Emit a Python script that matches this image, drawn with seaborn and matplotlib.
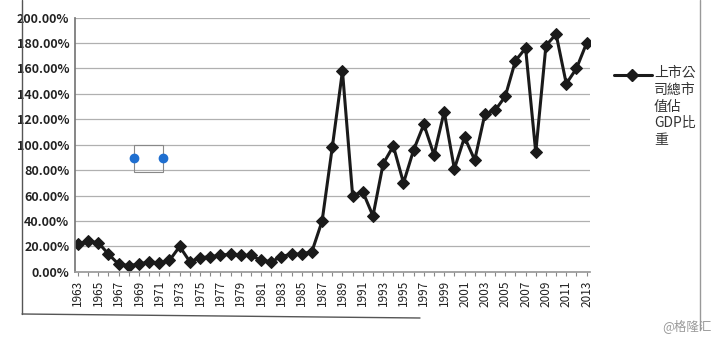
import matplotlib
matplotlib.use("Agg")
import matplotlib.pyplot as plt
import seaborn as sns
import pandas as pd
from matplotlib.lines import Line2D
from matplotlib.patches import Rectangle
from matplotlib.ticker import FuncFormatter, MultipleLocator

years = list(range(1963, 2014))
ratio = [22, 24, 23, 14, 6, 5, 6, 8, 7, 9,
         20, 8, 11, 12, 13, 14, 13, 13, 9, 8,
         12, 14, 14, 16, 40, 98, 158, 60, 63, 44,
         85, 99, 70, 96, 116, 92, 126, 81, 106, 88,
         124, 127, 138, 166, 176, 94, 178, 187, 148, 160,
         180]
series_name = "上市公司總市值佔GDP比重"
legend_label = "上市公\n司總市\n值佔\nGDP比\n重"
watermark = "@格隆汇"

df = pd.DataFrame({"year": years, "ratio": ratio})

sns.set_theme(style="white")
plt.rcParams['font.family'] = ['Noto Sans CJK TC', 'DejaVu Sans']

fig = plt.figure(figsize=(7.2, 3.39), dpi=100)
ax = fig.add_axes([0.104, 0.198, 0.715, 0.75])

sns.lineplot(data=df, x="year", y="ratio", ax=ax, color="#1a1a1a",
             marker="D", markersize=6.5, linewidth=2.2, markeredgecolor="#1a1a1a")

ax.set_ylim(0, 200)
ax.set_xlim(1962.7, 2013.3)
ax.yaxis.set_major_locator(MultipleLocator(20))
ax.yaxis.set_major_formatter(FuncFormatter(lambda v, p: f"{v:.2f}%"))
ax.set_xticks(years)
ax.set_xticklabels([str(y) if (y - 1963) % 2 == 0 else "" for y in years],
                   rotation=90, fontsize=8.5, color="#222222")
ax.tick_params(axis="y", labelsize=9, colors="#222222", length=0, pad=4)
ax.tick_params(axis="x", length=3, width=0.8, color="#888888", bottom=True, pad=3)
for lab in ax.get_yticklabels():
    lab.set_fontweight("bold")
ax.grid(axis="y", color="#b0b0b0", linewidth=0.9)
ax.set_xlabel("")
ax.set_ylabel("")
for s in ["top", "right"]:
    ax.spines[s].set_visible(False)
ax.spines["left"].set_color("#777777")
ax.spines["bottom"].set_color("#999999")
if ax.get_legend():
    ax.get_legend().remove()

# legend drawn manually
W, H = 720, 339
def fx(x): return x / W
def fy(y): return 1 - y / H
fig.add_artist(Line2D([fx(614), fx(652)], [fy(75), fy(75)], color="#1a1a1a", linewidth=2.2))
fig.add_artist(Line2D([fx(632)], [fy(75)], color="#1a1a1a", marker="D", markersize=6))
fig.text(fx(654), fy(66), legend_label, fontsize=10, color="#333333",
         va="top", ha="left", linespacing=1.25)

# outer frame
fig.add_artist(Line2D([fx(22), fx(22)], [fy(0), fy(314)], color="#555555", linewidth=1))
fig.add_artist(Line2D([fx(22), fx(420)], [fy(314), fy(318)], color="#555555", linewidth=1))
fig.add_artist(Line2D([fx(700), fx(700)], [fy(0), fy(330)], color="#999999", linewidth=1))

# selection box artifact
fig.add_artist(Rectangle((fx(134), fy(172)), fx(29), 27 / H, fill=False,
                         edgecolor="#888888", linewidth=0.8))
fig.add_artist(Line2D([fx(134), fx(163)], [fy(158), fy(158)], linestyle="none",
                      marker="o", markersize=6, color="#1f6fd0"))

fig.text(fx(712), fy(326), watermark, fontsize=9, color="#9a9a9a", ha="right", va="center")

fig.savefig("out.png", dpi=100)
